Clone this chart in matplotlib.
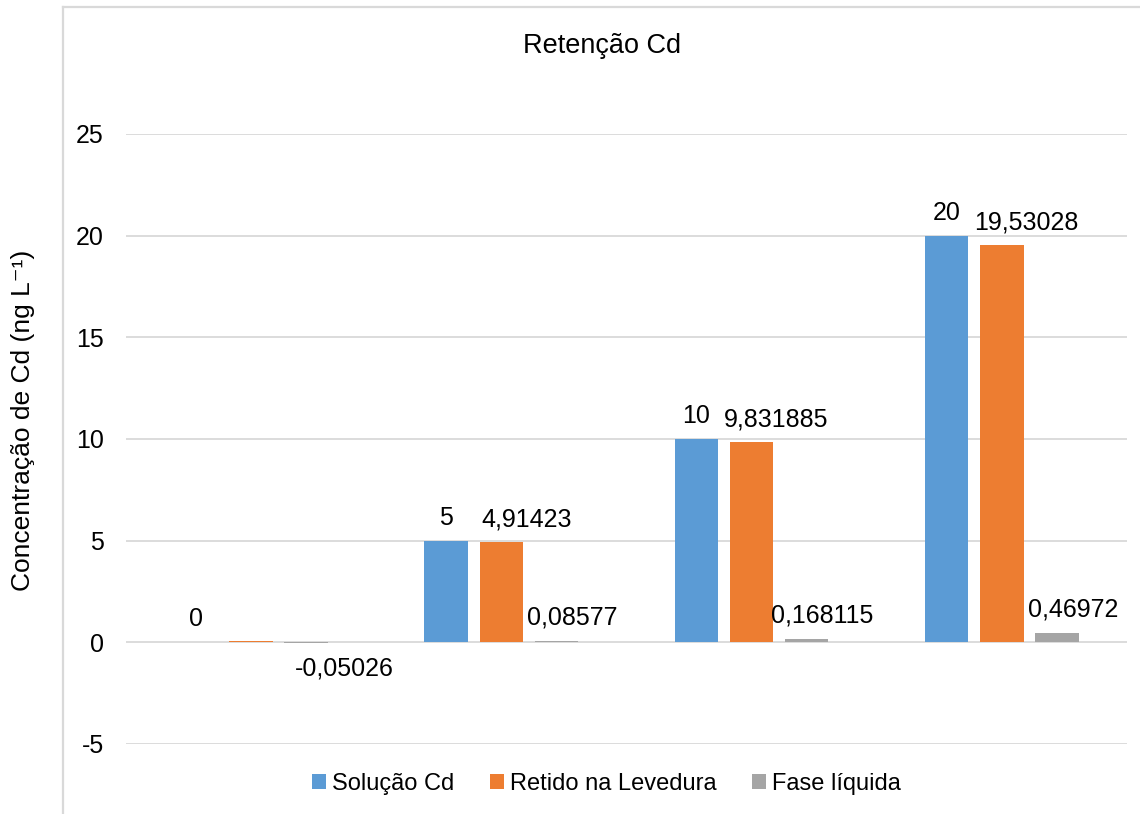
import matplotlib
matplotlib.use('Agg')
import matplotlib.pyplot as plt
from matplotlib.lines import Line2D
import numpy as np

plt.rcParams['font.family'] = ['Liberation Sans', 'DejaVu Sans']
plt.rcParams['axes.unicode_minus'] = False

# Cd retention per spiked level
series = ['Solução Cd', 'Retido na Levedura', 'Fase líquida']
solucao = [0, 5, 10, 20]
retido = [0.05026, 4.91423, 9.831885, 19.53028]
fase_liquida = [-0.05026, 0.08577, 0.168115, 0.46972]
label_text = [
    ['0', '5', '10', '20'],
    [None, '4,91423', '9,831885', '19,53028'],
    ['-0,05026', '0,08577', '0,168115', '0,46972'],
]
colors = ['#5B9BD5', '#ED7D31', '#A5A5A5']
grid_color = '#D9D9D9'
fs = 18

fig = plt.figure(figsize=(11.4, 8.14), dpi=100)
ax = fig.add_axes([0.1105, 0.086, 0.878, 0.7494])

x = np.arange(len(solucao))
width = 0.174
step = 0.22
values = [solucao, retido, fase_liquida]

bars = []
for i, (vals, name, c) in enumerate(zip(values, series, colors)):
    b = ax.bar(x + (i - 1) * step, vals, width, color=c, label=name, zorder=3)
    bars.append(b)

# data labels: blue centred, orange and grey nudged right so they don't collide
label_dx = [0, 25, 16]
for i, b in enumerate(bars):
    for j, rect in enumerate(b):
        txt = label_text[i][j]
        if txt is None:
            continue
        v = values[i][j]
        xc = rect.get_x() + rect.get_width() / 2
        if v < 0:
            ax.annotate(txt, (xc, 0), xytext=(label_dx[i] + 22, -14), textcoords='offset pixels',
                        ha='center', va='top', fontsize=fs, color='#000000')
        else:
            ax.annotate(txt, (xc, v), xytext=(label_dx[i], 16), textcoords='offset pixels',
                        ha='center', va='baseline', fontsize=fs, color='#000000')

ax.set_xlim(-0.5, 3.5)
ax.set_ylim(-5, 25)
ax.set_yticks(range(-5, 30, 5))
ax.set_xticks([])
ax.tick_params(axis='y', length=0, labelsize=fs, pad=16)
ax.yaxis.grid(True, color=grid_color, linewidth=1.3, zorder=0)
for s in ax.spines.values():
    s.set_visible(False)

ax.set_ylabel('Concentração de Cd (ng L⁻¹)', fontsize=19)
ax.yaxis.set_label_coords(-0.091, 0.531)

fig.text(0.528, 0.944, 'Retenção Cd', ha='center', va='center', fontsize=19.5)

leg = fig.legend(loc='center', bbox_to_anchor=(0.532, 0.037), ncol=3, frameon=False,
                 fontsize=17, handlelength=0.6, handleheight=0.6, handletextpad=0.25,
                 columnspacing=1.5)

# outer chart border (left and top edges visible)
fig.add_artist(Line2D([63 / 1140, 63 / 1140], [0, 1 - 7 / 814], color=grid_color,
                      linewidth=1.6, transform=fig.transFigure))
fig.add_artist(Line2D([63 / 1140, 1], [1 - 7 / 814, 1 - 7 / 814], color=grid_color,
                      linewidth=1.6, transform=fig.transFigure))

fig.savefig('out.png', dpi=100, facecolor='white')
